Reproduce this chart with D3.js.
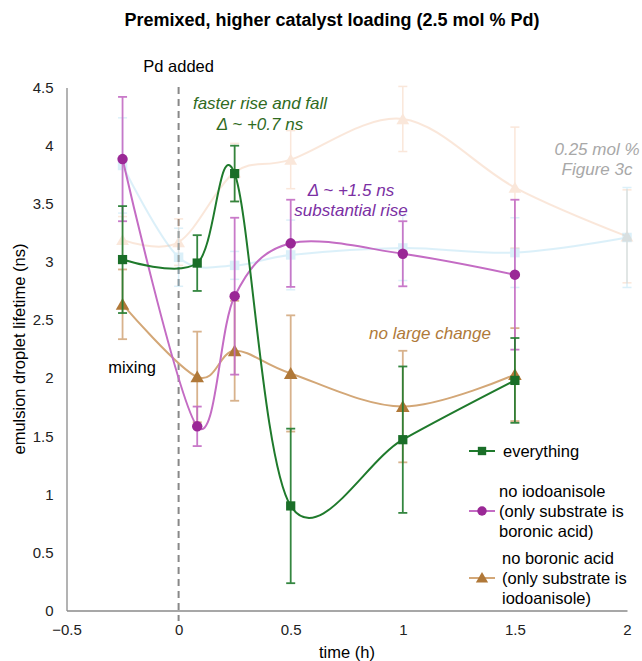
<!DOCTYPE html>
<html>
<head>
<meta charset="utf-8">
<script src="https://cdn.jsdelivr.net/npm/d3@7"></script>
<style>
  html, body { margin: 0; padding: 0; background: #fff; }
  text { font-family: "Liberation Sans", Arial, Helvetica, sans-serif; }
</style>
</head>
<body>
<svg id="chart" width="642" height="661"></svg>
<script>
// ---------- data ----------
const timesMain = [-0.25, 0.083, 0.25, 0.5, 1, 1.5];
const everything = [3.02, 2.99, 3.76, 0.90, 1.47, 1.98];
const everythingErr = [0.46, 0.24, 0.24, 0.665, 0.63, 0.365];
const noIodo = [3.885, 1.585, 2.705, 3.16, 3.07, 2.89];
const noIodoErr = [0.535, 0.17, 0.675, 0.375, 0.28, 0.645];
const noBoronic = [2.635, 2.01, 2.235, 2.04, 1.755, 2.03];
const noBoronicErr = [0.30, 0.39, 0.43, 0.50, 0.48, 0.40];

const timesRef = [-0.25, 0, 0.25, 0.5, 1, 1.5, 2];
const refBlue = [3.83, 3.04, 2.97, 3.06, 3.12, 3.08, 3.21];
const refBlueErr = [0.41, 0.25, 0.12, 0.30, 0.28, 0.30, 0.43];
const refOrange = [3.19, 3.17, 3.77, 3.88, 4.23, 3.64, 3.22];
const refOrangeErr = [0.20, 0.20, 0.25, 0.25, 0.28, 0.52, 0.40];

const xTicks = [-0.5, 0, 0.5, 1, 1.5, 2];
const yTicks = [0, 0.5, 1, 1.5, 2, 2.5, 3, 3.5, 4, 4.5];

const legendLabels = [
  ["everything"],
  ["no iodoanisole", "(only substrate is", "boronic acid)"],
  ["no boronic acid", "(only substrate is", "iodoanisole)"]
];

// ---------- setup ----------
const svg = d3.select("#chart");
const x = d3.scaleLinear().domain([-0.5, 2]).range([66.5, 627]);
const y = d3.scaleLinear().domain([0, 4.5]).range([610.5, 87.6]);
const curve = d3.curveCardinal.tension(0);

// title
svg.append("text").attr("x", 332).attr("y", 26).attr("text-anchor", "middle")
  .style("font-weight", "bold").style("font-size", "18px").attr("fill", "#000")
  .text("Premixed, higher catalyst loading (2.5 mol % Pd)");

// axes
const yAxis = svg.append("g").attr("transform", `translate(${x(-0.5)},0)`)
  .call(d3.axisLeft(y).tickValues(yTicks).tickSize(0).tickPadding(13).tickFormat(d3.format("")));
const xAxis = svg.append("g").attr("transform", `translate(0,${y(0)})`)
  .call(d3.axisBottom(x).tickValues(xTicks).tickSize(0).tickPadding(14).tickFormat(d3.format("")));
[yAxis, xAxis].forEach(g => {
  g.select(".domain").attr("stroke", "#8a8a8a").attr("stroke-width", 1.3);
  g.selectAll("text").style("font-size", "15px").attr("fill", "#222")
    .style("font-family", '"Liberation Sans", Arial, sans-serif');
});

// axis titles
svg.append("text").attr("x", 347).attr("y", 658).attr("text-anchor", "middle")
  .style("font-size", "16.5px").attr("fill", "#000").text("time (h)");
svg.append("text").attr("transform", `translate(25,${y(2.25)}) rotate(-90)`)
  .attr("text-anchor", "middle").style("font-size", "16.5px").attr("fill", "#000")
  .text("emulsion droplet lifetime (ns)");

// dashed line at t=0
svg.append("line").attr("x1", x(0)).attr("x2", x(0)).attr("y1", 87).attr("y2", 621)
  .attr("stroke", "#888").attr("stroke-width", 2).attr("stroke-dasharray", "7,5");

// ---------- series drawing ----------
function markerPath(shape, size) {
  const sym = shape === "square" ? d3.symbolSquare : shape === "circle" ? d3.symbolCircle : d3.symbolTriangle;
  return d3.symbol().type(sym).size(size)();
}

function drawSeries(times, vals, errs, opt) {
  const g = svg.append("g").attr("opacity", opt.opacity || 1);
  const pts = times.map((t, i) => ({ t, v: vals[i], e: errs[i] }));
  // error bars
  const eb = g.append("g").attr("stroke", opt.errColor).attr("stroke-width", opt.errWidth || 1.8)
    .attr("opacity", opt.errOpacity || 1);
  pts.forEach(p => {
    eb.append("line").attr("x1", x(p.t)).attr("x2", x(p.t)).attr("y1", y(p.v - p.e)).attr("y2", y(p.v + p.e));
    [p.v - p.e, p.v + p.e].forEach(v => {
      eb.append("line").attr("x1", x(p.t) - 4.5).attr("x2", x(p.t) + 4.5).attr("y1", y(v)).attr("y2", y(v));
    });
  });
  // line
  g.append("path").datum(pts)
    .attr("d", d3.line().x(d => x(d.t)).y(d => y(d.v)).curve(curve))
    .attr("fill", "none").attr("stroke", opt.lineColor).attr("stroke-width", opt.lineWidth || 2);
  // markers
  g.selectAll(".m").data(pts).enter().append("path")
    .attr("transform", d => `translate(${x(d.t)},${y(d.v) + (opt.shape === "triangle" ? 1.5 : 0)})`)
    .attr("d", markerPath(opt.shape, opt.size))
    .attr("fill", opt.markerColor).attr("stroke", opt.markerStroke || "none");
}

// faint reference series (0.25 mol %)
drawSeries(timesRef, refOrange, refOrangeErr, {
  opacity: 0.27, errColor: "#f0a878", lineColor: "#f0a878", markerColor: "#f0a878",
  shape: "triangle", size: 70, errWidth: 1.5
});
drawSeries(timesRef, refBlue, refBlueErr, {
  opacity: 0.3, errColor: "#8ccfee", lineColor: "#8ccfee", markerColor: "#8ccfee",
  shape: "square", size: 90, errWidth: 1.5
});

// main series
drawSeries(timesMain, noBoronic, noBoronicErr, {
  errColor: "#d4aa80", lineColor: "#d3a777", markerColor: "#b07838",
  shape: "triangle", size: 80, errOpacity: 0.9
});
drawSeries(timesMain, noIodo, noIodoErr, {
  errColor: "#c46cc4", lineColor: "#c46cc4", markerColor: "#9a2896",
  shape: "circle", size: 85, errOpacity: 0.9
});
drawSeries(timesMain, everything, everythingErr, {
  errColor: "#1f7a2c", lineColor: "#1f7a2c", markerColor: "#1a6e28",
  shape: "square", size: 85, errOpacity: 0.9
});

// ---------- annotations ----------
function ann(txt, cx, by, color, italic, size) {
  svg.append("text").attr("x", cx).attr("y", by).attr("text-anchor", "middle")
    .style("font-size", (size || 17) + "px").style("font-style", italic ? "italic" : "normal")
    .attr("fill", color).text(txt);
}
ann("Pd added", x(0), 72, "#000", false, 16.5);
ann("mixing", 132, 373, "#000", false, 16.5);
ann("faster rise and fall", 260, 109, "#2f6b1e", true);
ann("Δ ~ +0.7 ns", 260, 130, "#2f6b1e", true);
ann("Δ ~ +1.5 ns", 351, 196, "#7b2fa3", true);
ann("substantial rise", 351, 216, "#7b2fa3", true);
ann("no large change", 430, 339, "#b07a3a", true);
ann("0.25 mol %", 597, 155, "#a8a8a8", true);
ann("Figure 3c", 597, 175, "#a8a8a8", true);

// ---------- legend ----------
const legendItems = [
  { lineColor: "#1f7a2c", markerColor: "#1a6e28", shape: "square", size: 70, cy: 451, textX: 503 },
  { lineColor: "#c46cc4", markerColor: "#9a2896", shape: "circle", size: 70, cy: 511, textX: 499 },
  { lineColor: "#d3a777", markerColor: "#b07838", shape: "triangle", size: 65, cy: 578, textX: 502 }
];
legendItems.forEach((it, i) => {
  const g = svg.append("g");
  g.append("line").attr("x1", 469).attr("x2", 495).attr("y1", it.cy).attr("y2", it.cy)
    .attr("stroke", it.lineColor).attr("stroke-width", 2);
  g.append("path").attr("transform", `translate(482,${it.cy + (it.shape === "triangle" ? 1 : 0)})`)
    .attr("d", markerPath(it.shape, it.size)).attr("fill", it.markerColor);
  const lines = legendLabels[i];
  lines.forEach((l, j) => {
    g.append("text").attr("x", it.textX).attr("y", it.cy + 6 + (j - (lines.length - 1) / 2) * 20)
      .style("font-size", "16.5px").attr("fill", "#000").text(l);
  });
});
</script>
</body>
</html>
